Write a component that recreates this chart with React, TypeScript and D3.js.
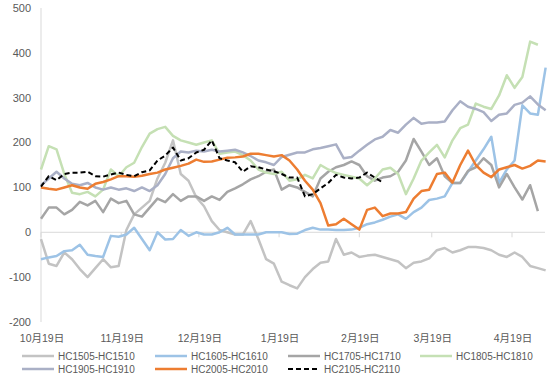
import React from "react";
import * as d3 from "d3";

const W = 550;
const H = 380;

const startDate = new Date(2018, 9, 19);
const dates: Date[] = d3.range(66).map((i) => d3.timeDay.offset(startDate, i * 3));

const tickDates = [
  new Date(2018, 9, 19),
  new Date(2018, 10, 19),
  new Date(2018, 11, 19),
  new Date(2019, 0, 19),
  new Date(2019, 1, 19),
  new Date(2019, 2, 19),
  new Date(2019, 3, 19),
];
const tickLabels = ["10月19日", "11月19日", "12月19日", "1月19日", "2月19日", "3月19日", "4月19日"];
const yTicks = [-200, -100, 0, 100, 200, 300, 400, 500];

const seriesNames = [
  "HC1505-HC1510",
  "HC1605-HC1610",
  "HC1705-HC1710",
  "HC1805-HC1810",
  "HC1905-HC1910",
  "HC2005-HC2010",
  "HC2105-HC2110",
];

const hc1505 = [
  -15, -70, -75, -45, -60, -82, -100, -80, -60, -78, -75,
  5, 40, 55, 70, 120, 155, 205, 130, 115, 78,
  58, 25, 5, 0, -5, -5, 25, -15, -60, -70,
  -110, -118, -125, -100, -82, -68, -65, -15, -50, -45,
  -55, -52, -50, -55, -60, -65, -80, -68, -65, -58,
  -40, -35, -45, -40, -33, -33, -35, -40, -50, -55,
  -45, -55, -75, -80, -85,
];
const hc1605 = [
  -60, -56, -53, -42, -40, -28, -50, -53, -55, -8, -10,
  -5, 10, -15, -40, 0, -16, -15, 5, -8, 0,
  -5, -5, 0, 10, -5, -5, -5, -5, 0, 0,
  0, -4, -3, 5, 10, 6, 6, 5, 5, 6,
  10, 18, 22, 28, 35, 40, 30, 45, 55, 72,
  75, 80, 110, 110, 135, 160, 185, 213, 110, 140,
  160, 283, 265, 262, 367,
];
const hc1705 = [
  30, 55, 55, 40, 50, 68, 60, 70, 45, 75, 65,
  70, 40, 35, 55, 75, 67, 85, 70, 80, 80,
  70, 80, 72, 90, 98, 107, 118, 125, 135, 140,
  95, 105, 100, 90, 80, 120, 135, 145, 150, 158,
  150, 125, 115, 122, 125, 135, 160, 208, 180, 150,
  165, 125, 110, 110, 137, 145, 165, 150, 100, 130,
  100, 73, 105, 47,
];
const hc1805 = [
  140, 192, 185, 130, 88, 85, 90, 80, 95, 140, 125,
  145, 155, 190, 220, 230, 235, 215, 205, 200, 195,
  200, 205, 175, 178, 180, 172, 160, 140, 133, 130,
  135, 115, 118, 128, 120, 150, 140, 132, 128, 124,
  120, 105, 120, 140, 144, 130, 85, 120, 160, 178,
  195, 167, 205, 232, 240, 287, 280, 275, 305, 350,
  322, 346, 425, 418,
];
const hc1905 = [
  105, 120, 135, 120, 108, 105, 110, 100, 95, 100, 95,
  98, 92, 100, 92, 105, 130, 165, 180, 178, 182,
  180, 184, 180, 182, 184, 178, 170, 160, 156, 150,
  168, 173, 178, 178, 185, 188, 192, 196, 165, 168,
  182, 195, 207, 213, 228, 222, 240, 255, 242, 245,
  245, 247, 272, 292, 280, 275, 268, 248, 262, 265,
  284, 289, 303, 285, 272,
];
const hc2005 = [
  100, 97, 95, 100, 105, 100, 97, 108, 112, 118, 125,
  125, 124, 126, 130, 133, 140, 144, 148, 153, 162,
  157, 158, 162, 166, 167, 169, 175, 175, 172, 169,
  172, 160, 140, 115, 95, 65, 15, 18, 30, 18,
  6, 50, 55, 36, 42, 42, 45, 75, 92, 95,
  130, 133, 111, 150, 182, 150, 133, 123, 140, 145,
  150, 142, 148, 160, 158,
];
const hc2105 = [
  102, 125, 116, 130, 133, 133, 135, 125, 124, 129, 133,
  128, 125, 134, 138, 160, 171, 189, 160, 165, 178,
  184, 205, 165, 160, 156, 135, 147, 145, 140, 136,
  130, 122, 122, 80, 85, 98, 110, 128, 122, 120,
  122, 133, 122, 111,
];

const seriesValues = [hc1505, hc1605, hc1705, hc1805, hc1905, hc2005, hc2105];
const seriesColors = ["#c3c3c3", "#9dc3e6", "#a5a5a5", "#c5e0b4", "#aab0c6", "#ed7d31", "#000000"];
const seriesDashed = [false, false, false, false, false, false, true];

export default function App() {
  const x = d3.scaleTime().domain([tickDates[0], tickDates[6]]).range([41, 512]);
  const y = d3.scaleLinear().domain([-200, 500]).range([322, 8]);

  const line = d3
    .line<number>()
    .x((_, i) => x(dates[i]))
    .y((d) => y(d))
    .curve(d3.curveLinear);

  const axisColor = "#d9d9d9";
  const textColor = "#595959";
  const font = "'Liberation Sans', 'Noto Sans CJK SC', Arial, sans-serif";

  const legendRows = [
    [0, 1, 2, 3],
    [4, 5, 6],
  ];
  const legendX = [22, 155, 288, 420];
  const legendY = [356, 369];

  return (
    <svg
      width={W}
      height={H}
      style={{ position: "absolute", left: 0, top: 0, background: "#fff" }}
      fontFamily={font}
    >
      <rect x={0} y={0} width={W} height={H} fill="#fff" />
      {/* y axis line */}
      <line x1={41} x2={41} y1={y(500)} y2={y(-200)} stroke={axisColor} strokeWidth={1} />
      {/* zero line (category axis) */}
      <line x1={41} x2={545} y1={y(0)} y2={y(0)} stroke={axisColor} strokeWidth={1} />
      {tickDates.map((d, i) => (
        <line key={"t" + i} x1={x(d)} x2={x(d)} y1={y(0)} y2={y(0) + 5} stroke={axisColor} strokeWidth={1} />
      ))}
      {yTicks.map((v) => (
        <text key={"y" + v} x={31} y={y(v)} dy="0.35em" textAnchor="end" fontSize={11} fill={textColor}>
          {v}
        </text>
      ))}
      {tickDates.map((d, i) => (
        <text key={"xl" + i} x={x(d) + 1} y={338} dy="0.35em" textAnchor="middle" fontSize={10.5} fill={textColor}>
          {tickLabels[i]}
        </text>
      ))}
      {seriesValues.map((vals, si) => (
        <path
          key={"s" + si}
          d={line(vals) || ""}
          fill="none"
          stroke={seriesColors[si]}
          strokeWidth={seriesDashed[si] ? 2 : 2.5}
          strokeDasharray={seriesDashed[si] ? "5,3" : undefined}
          strokeLinejoin="round"
        />
      ))}
      {legendRows.map((row, ri) =>
        row.map((si, ci) => (
          <g key={"lg" + si}>
            <line
              x1={legendX[ci]}
              x2={legendX[ci] + 32}
              y1={legendY[ri]}
              y2={legendY[ri]}
              stroke={seriesColors[si]}
              strokeWidth={seriesDashed[si] ? 2 : 2.5}
              strokeDasharray={seriesDashed[si] ? "5,3" : undefined}
            />
            <text x={legendX[ci] + 36} y={legendY[ri]} dy="0.35em" fontSize={10} fill={textColor}>
              {seriesNames[si]}
            </text>
          </g>
        ))
      )}
    </svg>
  );
}
